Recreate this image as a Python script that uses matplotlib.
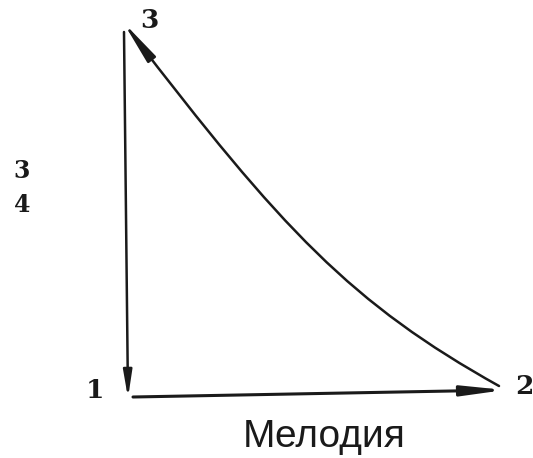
import numpy as np
import matplotlib
matplotlib.use("Agg")
import matplotlib.pyplot as plt
from matplotlib.patches import FancyArrowPatch
from matplotlib.path import Path

# beat points of the 3/4 conducting pattern (image pixel coords)
beat_labels = ["1", "2", "3"]
beat_x = [128, 505, 123]
beat_y = [398, 390, 22]

# bezier for the sweep from beat 2 back up to beat 3: start, ctrl, ctrl, end
curve_x = [499, 352, 282, 123]
curve_y = [386, 304, 230, 22]

time_sig = ["3", "4"]
title = "Мелодия"

fig = plt.figure(figsize=(5.33, 4.58), dpi=100)
ax = fig.add_axes([0, 0, 1, 1])
ax.set_xlim(0, 533)
ax.set_ylim(458, 0)
ax.axis("off")

ink = "#1a1a1a"

# 3 -> 1 straight down
ax.add_patch(FancyArrowPatch((beat_x[2] + 1, beat_y[2] + 10), (beat_x[0], beat_y[0]),
                             arrowstyle="-|>,head_length=16,head_width=2.6",
                             color=ink, lw=1.8, shrinkA=0, shrinkB=0))
# 1 -> 2 across
ax.add_patch(FancyArrowPatch((beat_x[0] + 5, beat_y[0] - 1), (beat_x[1], beat_y[1]),
                             arrowstyle="-|>,head_length=25,head_width=3",
                             color=ink, lw=2.2, shrinkA=0, shrinkB=0))
# 2 -> 3 curve
verts = list(zip(curve_x, curve_y))
sweep = Path(verts, [Path.MOVETO, Path.CURVE4, Path.CURVE4, Path.CURVE4])
ax.add_patch(FancyArrowPatch(path=sweep, arrowstyle="-|>,head_length=26,head_width=3",
                             color=ink, lw=1.8))

# beat numbers
lbl = dict(family="DejaVu Serif", fontweight="bold", fontsize=19, color=ink,
           ha="center", va="center")
ax.text(95, 390, beat_labels[0], **lbl)
ax.text(524, 386, beat_labels[1], **lbl)
ax.text(149, 21, beat_labels[2], **lbl)

# time signature
sig = dict(lbl, fontsize=17)
ax.text(22, 171, time_sig[0], **sig)
ax.text(22, 205, time_sig[1], **sig)

ax.text(324, 437, title, family="Liberation Sans", fontsize=28, color=ink,
        ha="center", va="center")

fig.savefig("out.png", dpi=100, facecolor="white")
